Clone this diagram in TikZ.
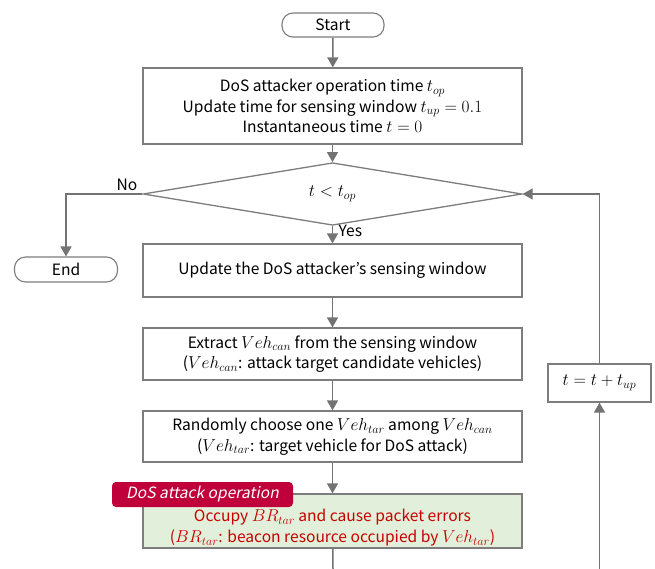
\documentclass[tikz,border=0pt]{standalone}
\usepackage{fontspec}
\setmainfont{Noto Sans CJK KR}
\newfontfamily\slantfont[FakeSlant=0.2]{Noto Sans CJK KR}
\usetikzlibrary{shapes.geometric,arrows.meta}
\newcommand\mth[1]{{\fontsize{18}{20}\selectfont$#1$}}
\definecolor{linegray}{RGB}{115,115,115}
\definecolor{boxgray}{RGB}{125,125,125}
\definecolor{greenfill}{RGB}{226,239,218}
\definecolor{redtext}{RGB}{200,0,0}
\definecolor{labelred}{RGB}{192,0,58}
\begin{document}
\begin{tikzpicture}[x=1pt,y=-1pt,
  every node/.style={font=\fontsize{15.6}{20.5}\selectfont},
  procbox/.style={draw=boxgray,line width=1.3pt,minimum width=379pt,align=center,inner sep=0pt},
  term/.style={draw=boxgray,line width=1.1pt,rounded corners=11pt,inner sep=0pt},
  conn/.style={draw=linegray,line width=1.5pt},
  arr/.style={conn,-{Triangle[length=10pt,width=11pt]}}]
\useasboundingbox (0,0) rectangle (655,569);
\fill[white] (0,0) rectangle (655,569);

\node[term,minimum width=102pt,minimum height=24pt] (start) at (333,25) {Start};
\node[procbox,minimum height=76pt] (init) at (332.5,106) {DoS attacker operation time \mth{t_{op}}\\Update time for sensing window \mth{t_{up}=0.1}\\Instantaneous time \mth{t=0}};
\node[diamond,draw=boxgray,line width=1.3pt,minimum width=379pt,minimum height=36pt,inner sep=0pt] (dec) at (332.5,194) {\mth{t<t_{op}}};
\node[term,minimum width=103pt,minimum height=25pt] (end) at (66,269.5) {End};
\node[procbox,minimum height=53pt] (upd) at (332.5,270.5) {Update the DoS attacker’s sensing window};
\node[procbox,minimum height=52pt] (ext) at (332.5,354) {Extract \mth{Veh_{can}} from the sensing window\\(\mth{Veh_{can}}: attack target candidate vehicles)};
\node[procbox,minimum height=51pt] (rnd) at (332.5,436.5) {Randomly choose one \mth{Veh_{tar}} among \mth{Veh_{can}}\\(\mth{Veh_{tar}}: target vehicle for DoS attack)};
\node[procbox,fill=greenfill,minimum height=54pt,text=redtext] (grn) at (332.5,521) {\rule{0pt}{26pt}Occupy \mth{BR_{tar}} and cause packet errors\\(\mth{BR_{tar}}: beacon resource occupied by \mth{Veh_{tar}})};
\node[fill=labelred,rounded corners=4pt,minimum width=181pt,minimum height=25pt,inner sep=0pt,text=white,font=\fontsize{15.6}{19}\slantfont] (lab) at (202.5,494.5) {DoS attack operation};
\node[draw=boxgray,line width=1.3pt,minimum width=103pt,minimum height=38pt,inner sep=0pt] (inc) at (599.5,383) {\mth{t=t+t_{up}}};

\coordinate (bl) at (333,569);
\coordinate (br) at (599.5,569);
\coordinate (cl) at (66,194);
\coordinate (cr) at (599.5,194);

\draw[arr] (start) -- (init);
\draw[arr] (init) -- (dec);
\draw[arr] (dec) -- node[right,pos=0.3,xshift=2pt] {Yes} (upd);
\draw[arr] (upd) -- (ext);
\draw[arr] (ext) -- (rnd);
\draw[arr] (rnd) -- (grn);
\draw[conn] (grn) -- (bl);
\draw[arr] (br) -- (inc);
\draw[arr] (inc.north) -- (cr) -- (dec.east);
\draw[arr] (dec.west) -- (cl) -- (end.north);
\node[anchor=south] (no) at (127,194) {No};
\end{tikzpicture}
\end{document}
